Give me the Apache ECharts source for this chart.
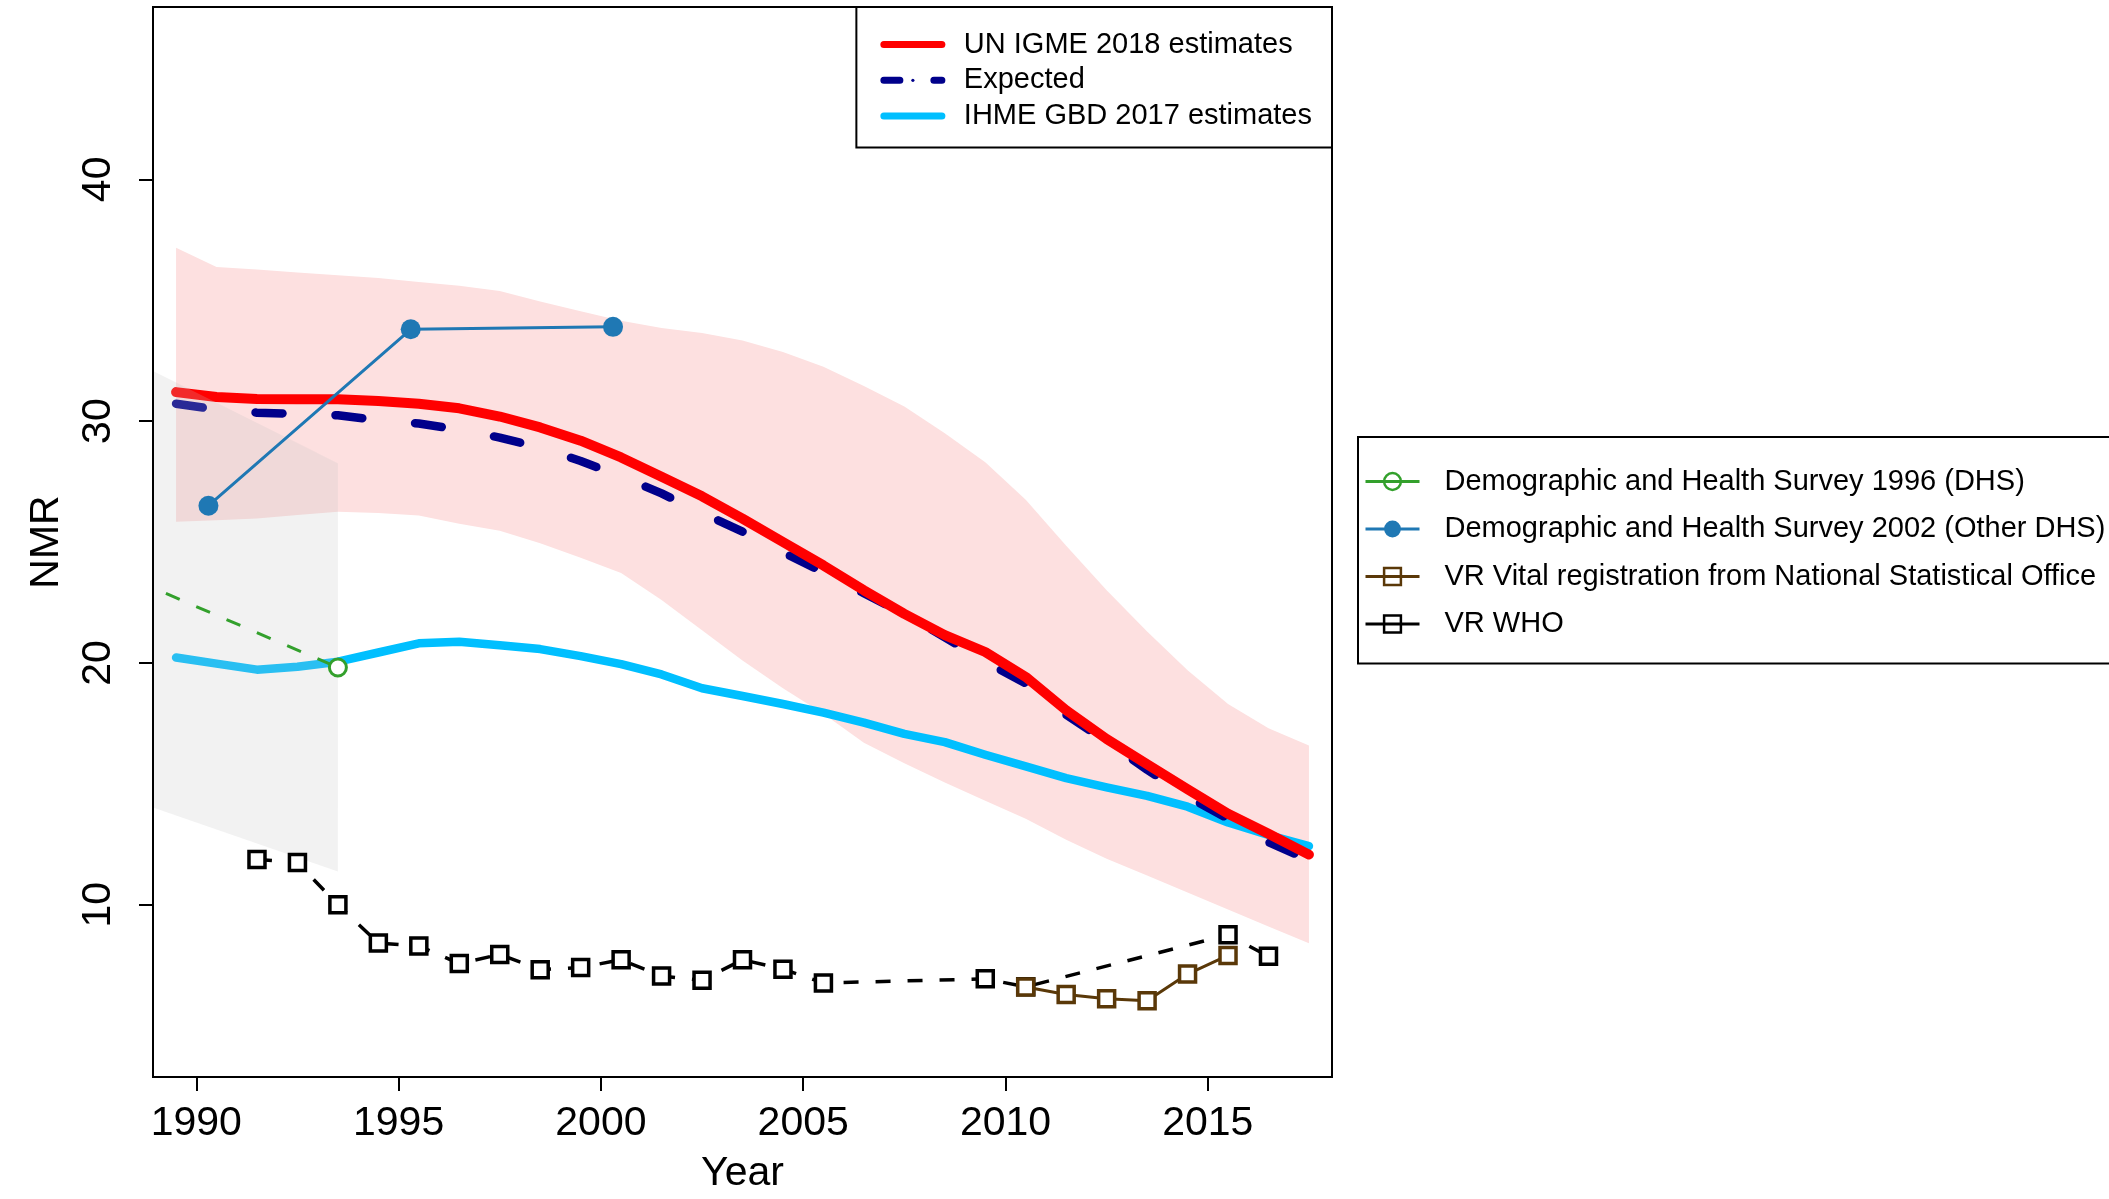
<!DOCTYPE html>
<html>
<head>
<meta charset="utf-8">
<script src="https://cdn.jsdelivr.net/npm/echarts@6/dist/echarts.min.js"></script>
<style>
html,body{margin:0;padding:0;background:#fff;}
#chart{width:2109px;height:1199px;}
</style>
</head>
<body>
<div id="chart"></div>
<script>
// ---------------- data ----------------
const years = [1989.5,1990.5,1991.5,1992.5,1993.5,1994.5,1995.5,1996.5,1997.5,1998.5,1999.5,2000.5,2001.5,2002.5,2003.5,2004.5,2005.5,2006.5,2007.5,2008.5,2009.5,2010.5,2011.5,2012.5,2013.5,2014.5,2015.5,2016.5,2017.5];
const igme = [31.2,31.0,30.92,30.9,30.9,30.83,30.72,30.53,30.19,29.74,29.19,28.5,27.7,26.89,25.97,25.0,24.03,23.0,22.03,21.15,20.45,19.42,18.04,16.85,15.81,14.77,13.76,12.93,12.07];
const igmeLower = [25.84,25.9,25.97,26.12,26.25,26.2,26.1,25.75,25.47,24.95,24.35,23.72,22.6,21.35,20.1,18.95,17.9,16.7,15.85,15.05,14.3,13.55,12.68,11.9,11.2,10.5,9.8,9.1,8.4];
const igmeUpper = [37.17,36.38,36.27,36.15,36.03,35.92,35.75,35.6,35.38,34.95,34.55,34.15,33.85,33.65,33.33,32.86,32.25,31.45,30.6,29.5,28.3,26.75,24.85,23.0,21.3,19.7,18.3,17.3,16.58];
const expected = [30.72,30.48,30.35,30.3,30.24,30.04,29.9,29.65,29.32,28.9,28.35,27.72,27.01,26.2,25.43,24.57,23.75,22.88,22.03,21.06,20.05,19.15,17.85,16.75,15.58,14.47,13.55,12.58,11.85];
const ihme = [20.22,19.97,19.72,19.84,20.05,20.43,20.81,20.87,20.73,20.57,20.28,19.95,19.52,18.95,18.63,18.3,17.94,17.53,17.06,16.72,16.2,15.72,15.23,14.85,14.5,14.05,13.4,12.88,12.42];

const dhs1996Years = [1988.5, 1993.5];
const dhs1996 = [23.41, 19.81];
const dhs1996Lower = [14.27, 11.37];
const dhs1996Upper = [32.43, 28.26];

const dhs2002Years = [1990.3, 1995.3, 2000.3];
const dhs2002 = [26.5, 33.8, 33.9];

const vrNsoYears = [2010.5, 2011.5, 2012.5, 2013.5, 2014.5, 2015.5];
const vrNso = [6.59, 6.28, 6.11, 6.02, 7.13, 7.9];

const vrWhoYears = [1991.5,1992.5,1993.5,1994.5,1995.5,1996.5,1997.5,1998.5,1999.5,2000.5,2001.5,2002.5,2003.5,2004.5,2005.5,2009.5,2010.5,2015.5,2016.5];
const vrWho = [11.87,11.74,9.99,8.41,8.29,7.56,7.94,7.31,7.4,7.72,7.05,6.87,7.72,7.33,6.76,6.93,6.6,8.75,7.86];

const xTicks = [1990, 1995, 2000, 2005, 2010, 2015];
const yTicks = [10, 20, 30, 40];

const legendTop = ['UN IGME 2018 estimates', 'Expected', 'IHME GBD 2017 estimates'];
const legendRight = ['Demographic and Health Survey 1996 (DHS)', 'Demographic and Health Survey 2002 (Other DHS)', 'VR Vital registration from National Statistical Office', 'VR WHO'];

// ---------------- styling ----------------
const FONT = 'Liberation Sans, Arial, Helvetica, sans-serif';
const C_RED = '#ff0000', C_EXP = '#00008b', C_IHME = '#00bfff';
const C_GREEN = '#33a02c', C_BLUE = '#1f78b4', C_BROWN = '#5a3808', C_BLACK = '#000000';

function pairs(xs, ys) { return xs.map((x, i) => [x, ys[i]]); }

function bandSeries(name, xs, lo, hi, fill, z) {
  return {
    type: 'custom', name: name, z: z, clip: true, silent: true,
    data: xs.map((x, i) => [x, lo[i], hi[i]]),
    encode: { x: 0, y: [1, 2] },
    renderItem: function (params, api) {
      if (params.dataIndex !== 0) return null;
      const pts = [];
      for (let i = 0; i < xs.length; i++) pts.push(api.coord([xs[i], hi[i]]));
      for (let i = xs.length - 1; i >= 0; i--) pts.push(api.coord([xs[i], lo[i]]));
      return { type: 'polygon', shape: { points: pts }, style: { fill: fill } };
    }
  };
}

const chart = echarts.init(document.getElementById('chart'), null, { renderer: 'canvas', width: 2109, height: 1199 });

const option = {
  animation: false,
  backgroundColor: '#ffffff',
  grid: {
    left: 153, top: 7, width: 1179, height: 1077,
    show: true, borderColor: '#000', borderWidth: 2, backgroundColor: 'transparent', z: 8
  },
  xAxis: {
    type: 'value', min: 1988.93, max: 2018.07,
    axisLine: { show: false },
    splitLine: { show: false },
    axisTick: { show: true, customValues: xTicks, length: 14, lineStyle: { color: '#000', width: 2 } },
    axisLabel: { show: true, customValues: xTicks, fontSize: 41, fontFamily: FONT, color: '#000', margin: 26,
      formatter: function (v) { return String(v); } },
    name: 'Year', nameLocation: 'middle', nameGap: 76,
    nameTextStyle: { fontSize: 41, fontFamily: FONT, color: '#000' }
  },
  yAxis: {
    type: 'value', min: 2.87, max: 47.13,
    axisLine: { show: false },
    splitLine: { show: false },
    axisTick: { show: true, customValues: yTicks, length: 14, lineStyle: { color: '#000', width: 2 } },
    axisLabel: { show: true, customValues: yTicks, rotate: 90, fontSize: 41, fontFamily: FONT, color: '#000', margin: 34,
      formatter: function (v) { return String(v); } },
    name: 'NMR', nameLocation: 'middle', nameGap: 86, nameRotate: 90,
    nameTextStyle: { fontSize: 41, fontFamily: FONT, color: '#000' }
  },
  legend: [
    {
      orient: 'vertical', right: 777, top: 7, z: 10,
      padding: [23, 20, 17, 24], itemGap: 6.8, itemWidth: 58, itemHeight: 4,
      borderColor: '#000', borderWidth: 2, backgroundColor: '#fff', selectedMode: false,
      textStyle: { fontFamily: FONT, fontSize: 29, color: '#000', lineHeight: 29, padding: [0, 0, 0, 17] },
      lineStyle: { width: 7 },
      data: [
        { name: legendTop[0] },
        { name: legendTop[1], lineStyle: { type: [16, 34], width: 7, cap: 'round' } },
        { name: legendTop[2] }
      ]
    },
    {
      orient: 'vertical', left: 1358, top: 437, z: 10,
      padding: [30, 20, 25, 6], itemGap: 18.5, itemWidth: 54, itemHeight: 21,
      borderColor: '#000', borderWidth: 2, backgroundColor: '#fff', selectedMode: false,
      textStyle: { fontFamily: FONT, fontSize: 29, color: '#000', lineHeight: 29, padding: [0, 0, 0, 20] },
      lineStyle: { width: 3, type: 'solid' },
      data: [
        { name: legendRight[0], itemStyle: { color: 'rgba(0,0,0,0)', borderColor: C_GREEN, borderWidth: 2.5 } },
        { name: legendRight[1] },
        { name: legendRight[2], itemStyle: { color: 'rgba(0,0,0,0)', borderColor: C_BROWN, borderWidth: 2.5 } },
        { name: legendRight[3], itemStyle: { color: 'rgba(0,0,0,0)', borderColor: C_BLACK, borderWidth: 2.5 } }
      ]
    }
  ],
  series: [
    bandSeries('UN IGME 2018 90% uncertainty', years, igmeLower, igmeUpper, '#fde0e0', 1),
    {
      type: 'line', name: legendTop[2], z: 2, symbol: 'none', silent: true,
      data: pairs(years, ihme),
      itemStyle: { color: C_IHME },
      lineStyle: { color: C_IHME, width: 8.5, cap: 'round', join: 'round' }
    },
    {
      type: 'line', name: legendTop[1], z: 3, symbol: 'none', silent: true,
      data: pairs(years, expected),
      itemStyle: { color: C_EXP },
      lineStyle: { color: C_EXP, width: 8.5, type: [27, 53], cap: 'round', join: 'round' }
    },
    {
      type: 'line', name: legendTop[0], z: 4, symbol: 'none', silent: true,
      data: pairs(years, igme),
      itemStyle: { color: C_RED },
      lineStyle: { color: C_RED, width: 10, cap: 'round', join: 'round' }
    },
    bandSeries('DHS 1996 uncertainty', dhs1996Years, dhs1996Lower, dhs1996Upper, 'rgba(193,193,193,0.21)', 5),
    {
      type: 'line', name: legendRight[0], z: 6, silent: true, clip: true,
      data: pairs(dhs1996Years, dhs1996),
      symbol: 'circle', symbolSize: 17, showAllSymbol: true,
      itemStyle: { color: '#fff', borderColor: C_GREEN, borderWidth: 3 },
      lineStyle: { color: C_GREEN, width: 3, type: [15, 18] }
    },
    {
      type: 'line', name: legendRight[1], z: 6, silent: true,
      data: pairs(dhs2002Years, dhs2002),
      symbol: 'circle', symbolSize: 20, showAllSymbol: true,
      itemStyle: { color: C_BLUE },
      lineStyle: { color: C_BLUE, width: 3 }
    },
    {
      type: 'line', name: legendRight[3], z: 6, silent: true,
      data: pairs(vrWhoYears, vrWho),
      symbol: 'rect', symbolSize: 16, showAllSymbol: true,
      itemStyle: { color: '#fff', borderColor: C_BLACK, borderWidth: 3.5 },
      lineStyle: { color: C_BLACK, width: 3.5, type: [15, 17] }
    },
    {
      type: 'line', name: legendRight[2], z: 7, silent: true,
      data: pairs(vrNsoYears, vrNso),
      symbol: 'rect', symbolSize: 16, showAllSymbol: true,
      itemStyle: { color: '#fff', borderColor: C_BROWN, borderWidth: 3.5 },
      lineStyle: { color: C_BROWN, width: 3 }
    }
  ]
};
chart.setOption(option);
</script>
</body>
</html>
